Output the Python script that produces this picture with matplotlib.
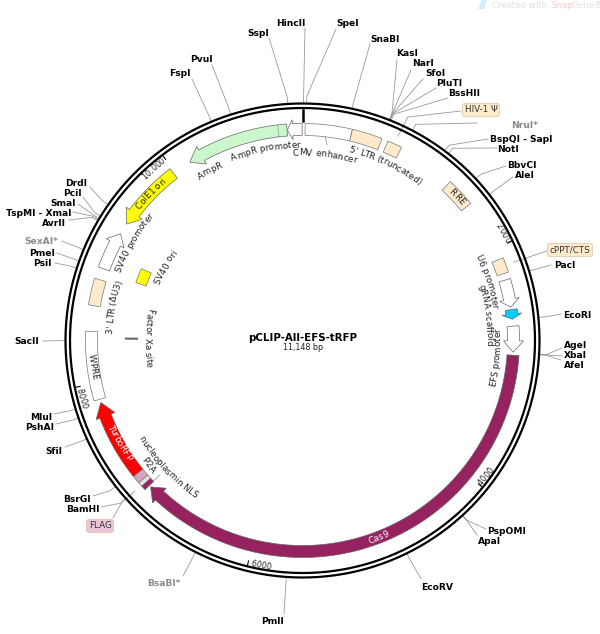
import numpy as np
import matplotlib
matplotlib.use('Agg')
import matplotlib.pyplot as plt
from matplotlib.font_manager import FontProperties
from matplotlib.patches import Polygon, FancyBboxPatch
from matplotlib.textpath import text_to_path

total_bp = 11148
title = 'pCLIP-All-EFS-tRFP'
subtitle = '11,148 bp'

# sites
site_names = ['SpeI', 'HincII', 'SnaBI', 'KasI', 'NarI', 'SfoI', 'PluTI', 'BssHII', 'NruI*',
              'BspQI - SapI', 'NotI', 'BbvCI', 'AleI', 'PacI', 'EcoRI', 'AgeI', 'XbaI', 'AfeI',
              'PspOMI', 'ApaI', 'EcoRV', 'PmlI', 'BsaBI*', 'BamHI', 'BsrGI', 'SfiI', 'PshAI',
              'MluI', 'SacII', 'PsiI', 'PmeI', 'SexAI*', 'AvrII', 'TspMI - XmaI', 'SmaI', 'PciI',
              'DrdI', 'FspI', 'PvuI', 'SspI']
site_bp = [31, 8, 375, 666, 668, 670, 672, 680, 856,
           1141, 1177, 1456, 1610, 2260, 2615, 2890, 2892, 2894,
           4258, 4262, 4765, 5695, 6405, 7066, 7185, 7603, 7770,
           7841, 8360, 8911, 8968, 9058, 9300, 9310, 9320, 9340,
           9443, 10448, 10603, 11037]

# label centre and where the leader stops, in pixels
label_xy = [(348, 24), (291, 24), (385, 39), (407, 54), (423, 64), (435, 74), (449, 84), (464, 94), (525, 125),
            (521, 140), (508, 150), (522, 165), (525, 175), (565, 265), (577, 316), (576, 346), (575, 356), (574, 366),
            (507, 532), (490, 542), (437, 587), (273, 622), (164, 583), (83, 510), (77, 500), (54, 451), (40, 427),
            (41, 417), (27, 342), (42, 263), (42, 253), (41, 241), (54, 223), (39, 213), (63, 203), (72, 193),
            (76, 183), (180, 74), (201, 60), (258, 34)]
line_end = [(336, 29), (305, 28), (370, 44), (397, 60), (411, 70), (423, 79), (436, 88), (448, 98), (477, 123),
            (488, 139), (497, 148), (506, 166), (513, 177), (551, 265), (561, 314), (562, 348), (562, 356), (561, 360),
            (486, 529), (477, 535), (421, 579), (284, 614), (183, 576), (101, 507), (93, 496), (65, 447), (56, 424),
            (54, 414), (43, 341), (55, 263), (57, 253), (62, 241), (69, 220), (73, 212), (78, 204), (83, 197),
            (90, 187), (192, 79), (212, 65), (269, 38)]
grey_sites = ['NruI*', 'SexAI*', 'BsaBI*']

ticks_bp = [2000, 4000, 6000, 8000, 10000]
tick_labels = ['2000', '4000', '6000', '8000', '10,000']
tick_text_bp = [1914, 3920, 5900, 7906, 9880]

# plain blocks on the main track: name, start, end, colour
block_names = ['CMV', 'LTR5', 'HIV1', 'RRE', 'cPPT', 'WPRE', 'LTR3', 'FLAG', 'P2A', 'NLS']
block_start = [22, 412, 718, 1329, 2093, 7860, 8654, 7092, 7050, 7015]
block_end = [412, 666, 842, 1573, 2218, 8438, 8878, 7160, 7092, 7055]
block_colors = ['white', '#ffebcc', '#ffebcc', '#ffebcc', '#ffebcc', 'white', '#ffebcc', '#d8a5c0', '#e8e0e4', '#96235f']

# arrows: tail bp, head base bp, tip bp, colour
arrow_names = ['U6', 'gRNA', 'EFS', 'Cas9', 'TurboRFP', 'SV40p', 'ColE1', 'AmpR', 'AmpRp']
arrow_tail = [2273, 2527, 2666, 2911, 7160, 8975, 9982, 11018, 11145]
arrow_base = [2440, 2565, 2790, 6896, 7711, 9210, 9510, 10263, 11065]
arrow_tip = [2505, 2608, 2886, 7000, 7832, 9303, 9398, 10148, 11021]
arrow_colors = ['white', '#00ccff', 'white', '#96235f', '#ff0000', 'white', '#ffff00', '#ccf7cc', 'white']

# text bent along the circle: text, radius, angle in degrees, flipped, colour
curved_names = ['CMV enhancer', "5' LTR (truncated)", 'U6 promoter', 'gRNA scaffold', 'EFS promoter', 'Cas9',
                'AmpR', 'AmpR promoter', 'ColE1 ori', 'SV40 promoter', 'SV40 ori', "3' LTR (\u0394U3)", 'WPRE',
                'TurboRFP', 'Factor Xa site', 'nucleoplasmin NLS', 'P2A', 'RRE']
curved_radius = [188, 197, 195, 187, 195, 211, 194, 196, 212, 197, 156, 193, 211, 210, 155, 188, 198, 211]
curved_angle = [6.8, 25.2, 72.2, 82, 95.1, 159, 331.3, 349, 314, 300.2, 298.1, 280, 263, 241, 271, 226.8, 231.1, 47]
curved_flip = [False, False, False, False, True, True, False, False, False, False, False, False, True,
               True, True, True, True, False]
curved_color = ['#222222'] * 5 + ['white'] + ['#222222'] * 7 + ['white'] + ['#222222'] * 4

boxed_labels = ['HIV-1 \u03a8', 'cPPT/CTS', 'FLAG']
boxed_xy = [(481, 110), (570, 250), (100, 526)]
boxed_colors = ['#ffebcc', '#ffebcc', '#ecc6d8']

cx, cy = 302.5, 340.5
ring_out, ring_in = 237, 232.5
band_out, band_in = 217, 205
fs_label, fs_feat = 6.6, 6.3
px = 100 / 72

fig = plt.figure(figsize=(6, 6.34), dpi=100)
ax = fig.add_axes([0, 0, 1, 1])
ax.set_xlim(0, 600)
ax.set_ylim(634, 0)
ax.axis('off')


def ang(bp):
    return np.asarray(bp) / total_bp * 2 * np.pi


def pt(theta, r):
    return cx + r * np.sin(theta), cy - r * np.cos(theta)


def arc_xy(a0, a1, r):
    t = np.linspace(a0, a1, max(int(abs(a1 - a0) * r / 2), 2))
    x, y = pt(t, r)
    return np.column_stack([x, y])


def block(start, end, color, ro=band_out, ri=band_in):
    xy = np.vstack([arc_xy(ang(start), ang(end), ro), arc_xy(ang(end), ang(start), ri)])
    ax.add_patch(Polygon(xy, closed=True, fc=color, ec='#777777', lw=0.5, zorder=3))


def arrow(tail, base, tip, color, ro=band_out, ri=band_in, flare=4):
    xy = np.vstack([arc_xy(ang(tail), ang(base), ro),
                    [pt(ang(base), ro + flare)],
                    [pt(ang(tip), (ro + ri) / 2)],
                    [pt(ang(base), ri - flare)],
                    arc_xy(ang(base), ang(tail), ri)])
    ax.add_patch(Polygon(xy, closed=True, fc=color, ec='#666666', lw=0.5, zorder=3))


def curved_text(s, r, angle, flip=False, color='#222222', size=fs_feat):
    prop = FontProperties(family='DejaVu Sans', size=size)
    widths = [text_to_path.get_text_width_height_descent(s[:i], prop, False)[0] * px for i in range(len(s) + 1)]
    total = widths[-1]
    base_r = r + 3 if flip else r - 3
    for i, ch in enumerate(s):
        d = (widths[i] + widths[i + 1]) / 2 - total / 2
        if flip:
            th = np.radians(angle) - d / base_r
            rot = 180 - np.degrees(th)
        else:
            th = np.radians(angle) + d / base_r
            rot = -np.degrees(th)
        x, y = pt(th, base_r)
        ax.text(x, y, ch, fontproperties=prop, color=color, rotation=rot, rotation_mode='anchor',
                ha='center', va='baseline', zorder=6)


# backbone
th = np.linspace(0, 2 * np.pi, 720)
for r, lw, c in [(ring_out, 1.6, 'black'), (ring_in, 1.6, 'black')]:
    x, y = pt(th, r)
    ax.plot(x, y, color=c, lw=lw, zorder=2, solid_capstyle='butt')
x, y = pt(0, np.array([231, 220]))
ax.plot(x, y, color='black', lw=1.8, zorder=2)

for t, lab, tb in zip(ticks_bp, tick_labels, tick_text_bp):
    x, y = pt(ang(t), np.array([227, 232]))
    ax.plot(x, y, color='black', lw=0.8, zorder=2)
    deg = np.degrees(ang(tb))
    curved_text(lab, 228, deg, flip=90 < deg < 270, size=5.8)

# sites
for name, bp, xy, end in zip(site_names, site_bp, label_xy, line_end):
    c = '#8c8c8c' if name in grey_sites else 'black'
    a = ang(bp)
    x0, y0 = pt(a, ring_out + 1)
    x1, y1 = pt(a, ring_out + 7)
    ax.plot([x0, x1, end[0]], [y0, y1, end[1]], color='#999999', lw=0.6, zorder=1)
    ax.text(xy[0], xy[1], name, fontsize=fs_label, fontweight='bold', color=c, ha='center', va='center', zorder=6)

# features
for name, s, e, c in zip(block_names, block_start, block_end, block_colors):
    block(s, e, c)
for name, a0, a1, a2, c in zip(arrow_names, arrow_tail, arrow_base, arrow_tip, arrow_colors):
    arrow(a0, a1, a2, c)
x, y = pt(ang(10944), np.array([band_in, band_out]))
ax.plot(x, y, color='#444444', lw=0.5, ls=(0, (1, 1)), zorder=4)

# inner track
block(8955, 9105, '#ffff00', ro=176.5, ri=165.5)
x, y = pt(ang(8380), np.array([165.5, 176.5]))
ax.plot(x, y, color='#666666', lw=1.5, zorder=3)

# short feature leaders
for s, e in [((325, 135), (327, 145)), ((398, 136), (408, 117)), ((408, 117), (461, 111)), ((514, 262), (547, 251)),
             ((135, 491), (122, 502)), ((122, 502), (113, 518)), ((152, 482), (160, 475))]:
    ax.plot([s[0], e[0]], [s[1], e[1]], color='#999999', lw=0.6, zorder=1)

for s, r, a, f, c in zip(curved_names, curved_radius, curved_angle, curved_flip, curved_color):
    curved_text(s, r, a, flip=f, color=c)

for lab, xy, c in zip(boxed_labels, boxed_xy, boxed_colors):
    ax.text(xy[0], xy[1], lab, fontsize=6.3, color='#333333', ha='center', va='center', zorder=6,
            bbox=dict(boxstyle='round,pad=0.25,rounding_size=0.3', fc=c, ec='#d9c2a0', lw=0.5))

ax.text(303, 338, title, fontsize=7.4, fontweight='bold', ha='center', va='center', color='black')
ax.text(303, 348, subtitle, fontsize=5.8, ha='center', va='center', color='#222222')

# watermark
ax.text(492, 5, 'Created with ', fontsize=6.2, color='#e2e2e2', ha='left', va='center')
ax.text(551, 5, 'Snap', fontsize=6.2, color='#f5cfcf', ha='left', va='center')
ax.text(572, 5, 'Gene\u00ae', fontsize=6.2, color='#e2e2e2', ha='left', va='center')
ax.add_patch(Polygon([(478, 9), (482, 0), (487, 0), (484, 9)], closed=True, fc='#cdeef8', ec='none'))

fig.savefig('out.png', dpi=100)
